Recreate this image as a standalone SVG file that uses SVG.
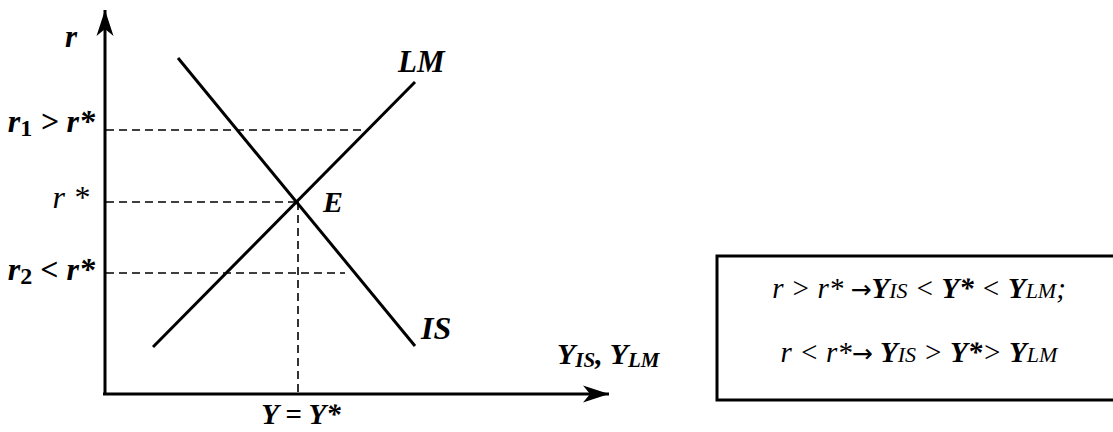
<svg xmlns="http://www.w3.org/2000/svg" width="1113" height="432" viewBox="0 0 1113 432">
<style>
.bi{font-family:"Liberation Serif","Times New Roman",serif;font-weight:bold;font-style:italic;fill:#000}
.it{font-family:"Liberation Serif","Times New Roman",serif;font-style:italic;fill:#000}
.arr{font-family:"DejaVu Sans",sans-serif;font-style:normal;font-weight:normal}
.axis{stroke:#000;stroke-width:3;fill:none}
.curve{stroke:#000;stroke-width:3;fill:none}
.dash{stroke:#000;stroke-width:1.6;fill:none;stroke-dasharray:8 5}
</style>
<defs>
<marker id="ah" markerUnits="userSpaceOnUse" viewBox="-28 -10 30 20" markerWidth="30" markerHeight="20" refX="0" refY="0" orient="auto">
<path d="M0,0 L-26,-8.5 L-19,0 L-26,8.5 Z" fill="#000"/>
</marker>
</defs>
<rect width="1113" height="432" fill="#fff"/>
<g id="connectors">
<line class="axis" x1="105" y1="395" x2="105" y2="10" marker-end="url(#ah)"/>
<line class="axis" x1="103" y1="394" x2="609" y2="394" marker-end="url(#ah)"/>
<line class="dash" x1="106" y1="130" x2="366" y2="130"/>
<line class="dash" x1="106" y1="202" x2="298" y2="202"/>
<line class="dash" x1="106" y1="273" x2="345" y2="273"/>
<line class="dash" x1="298" y1="202" x2="298" y2="394"/>
</g>
<g id="LM">
<line class="curve" x1="153" y1="347" x2="415" y2="82"/>
<text class="bi" x="398" y="72" font-size="31">LM</text>
</g>
<g id="IS">
<line class="curve" x1="178" y1="58" x2="415" y2="346"/>
<text class="bi" x="421" y="339" font-size="32">IS</text>
</g>
<g id="E">
<text class="bi" x="323" y="212" font-size="30">E</text>
</g>
<g id="labels">
<text class="bi" x="65" y="47" font-size="31">r</text>
<text class="bi" x="95" y="132" font-size="32" text-anchor="end">r<tspan font-size="24" font-style="normal" dy="4">1</tspan><tspan dy="-4"> &gt; r*</tspan></text>
<text class="it" x="89" y="208" font-size="32" text-anchor="end">r *</text>
<text class="bi" x="95" y="280" font-size="32" text-anchor="end">r<tspan font-size="24" font-style="normal" dy="4">2</tspan><tspan dy="-4"> &lt; r*</tspan></text>
<text class="bi" x="557" y="364" font-size="30">Y<tspan font-size="21" dy="3">IS</tspan><tspan dy="-3">, Y</tspan><tspan font-size="21" dy="3">LM</tspan></text>
<text class="bi" x="301" y="424" font-size="29" text-anchor="middle">Y = Y*</text>
</g>
<g id="box">
<rect x="717" y="256" width="420" height="144" fill="none" stroke="#000" stroke-width="3"/>
<text class="it" x="919" y="298" font-size="29" text-anchor="middle">r &gt; r* <tspan class="arr" font-size="25">→</tspan><tspan class="bi">Y</tspan><tspan font-size="22">IS</tspan> &lt; <tspan class="bi">Y*</tspan> &lt; <tspan class="bi">Y</tspan><tspan font-size="22">LM</tspan>;</text>
<text class="it" x="919" y="362" font-size="29" text-anchor="middle">r &lt; r*<tspan class="arr" font-size="25">→</tspan> <tspan class="bi">Y</tspan><tspan font-size="22">IS</tspan> &gt; <tspan class="bi">Y*</tspan>&gt; <tspan class="bi">Y</tspan><tspan font-size="22">LM</tspan></text>
</g>
</svg>
